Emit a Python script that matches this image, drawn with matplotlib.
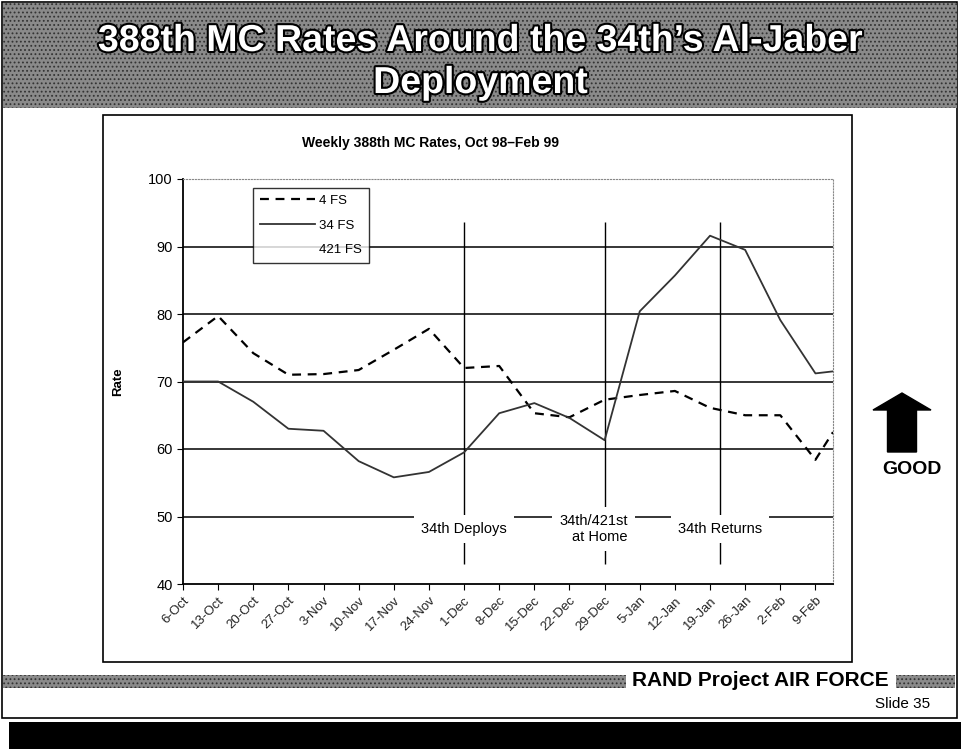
import matplotlib
matplotlib.use("Agg")
import matplotlib.pyplot as plt
import matplotlib.patheffects as pe
from matplotlib import font_manager
from matplotlib.patches import Rectangle, FancyArrow
import pandas as pd

# ---------- data ----------
week_dates = ["1998-10-06", "1998-10-13", "1998-10-20", "1998-10-27", "1998-11-03",
              "1998-11-10", "1998-11-17", "1998-11-24", "1998-12-01", "1998-12-08",
              "1998-12-15", "1998-12-22", "1998-12-29", "1999-01-05", "1999-01-12",
              "1999-01-19", "1999-01-26", "1999-02-02", "1999-02-09", "1999-02-12 12:00"]
tick_labels = ["6-Oct", "13-Oct", "20-Oct", "27-Oct", "3-Nov", "10-Nov", "17-Nov",
               "24-Nov", "1-Dec", "8-Dec", "15-Dec", "22-Dec", "29-Dec", "5-Jan",
               "12-Jan", "19-Jan", "26-Jan", "2-Feb", "9-Feb"]
fs4 = [75.8, 79.7, 74.2, 71.0, 71.1, 71.7, 74.7, 77.8, 72.0, 72.3,
       65.3, 64.7, 67.3, 68.0, 68.6, 66.1, 65.0, 65.0, 58.4, 62.5]
fs34 = [70.0, 70.0, 67.0, 63.0, 62.7, 58.2, 55.8, 56.6, 59.5, 65.3,
        66.8, 64.6, 61.3, 80.4, 85.7, 91.6, 89.5, 79.1, 71.2, 71.5]
event_dates = ["1998-12-01", "1998-12-29", "1999-01-21"]
event_labels = ["34th Deploys", "34th/421st\nat Home", "34th Returns"]
event_shift = [0, -8, 0]  # text offset in points

x = pd.to_datetime(week_dates, format="mixed")
xt = x[:len(tick_labels)]
ev = pd.to_datetime(event_dates)

names = {f.name for f in font_manager.fontManager.ttflist}
narrow = "Liberation Sans Narrow" if "Liberation Sans Narrow" in names else "Liberation Sans"
plt.rcParams["font.family"] = ["Liberation Sans", "DejaVu Sans"]
plt.rcParams["hatch.linewidth"] = 0.8

W, H = 961, 749
fig = plt.figure(figsize=(W / 100, H / 100), dpi=100)
fig.patch.set_facecolor("white")

def fx(px):
    return px / W

def fy(py):
    return 1 - py / H

def band(x0, y0, x1, y1):
    fig.patches.append(Rectangle((fx(x0), fy(y1)), fx(x1 - x0), (y1 - y0) / H,
                                 transform=fig.transFigure, facecolor="#8a8a8a",
                                 edgecolor="#333333", hatch="....", lw=0, zorder=0))

# ---------- slide decoration ----------
fig.patches.append(Rectangle((fx(2), fy(718)), fx(955), 716 / H, transform=fig.transFigure,
                             facecolor="none", edgecolor="black", lw=1.2, zorder=0))
band(3, 3, 957, 108)
fig.patches.append(Rectangle((fx(9), 0), 1, 27 / H, transform=fig.transFigure,
                             facecolor="black", edgecolor="none", zorder=0))
band(3, 675, 626, 688)
band(896, 675, 955, 688)
fig.patches.append(Rectangle((fx(103), fy(662)), fx(749), 547 / H, transform=fig.transFigure,
                             facecolor="white", edgecolor="black", lw=1.2, zorder=0))

stroke = [pe.withStroke(linewidth=3, foreground="black")]
fig.text(0.5, fy(41), "388th MC Rates Around the 34th\u2019s Al-Jaber", ha="center", va="center",
         color="white", fontsize=27, fontweight="bold", family=[narrow, "DejaVu Sans"],
         path_effects=stroke)
fig.text(0.5, fy(83), "Deployment", ha="center", va="center",
         color="white", fontsize=27, fontweight="bold", family=[narrow, "DejaVu Sans"],
         path_effects=stroke)

fig.text(fx(889), fy(681), "RAND Project AIR FORCE", ha="right", va="center",
         fontsize=15, fontweight="bold")
fig.text(fx(930), fy(704), "Slide 35", ha="right", va="center", fontsize=11,
         family=[narrow, "DejaVu Sans"])

fig.text(fx(430), fy(143), "Weekly 388th MC Rates, Oct 98\u2013Feb 99", ha="center",
         va="center", fontsize=10, fontweight="bold")

# GOOD arrow
fig.patches.append(FancyArrow(fx(902), fy(452), 0, (452 - 393) / H, width=fx(29),
                              head_width=fx(58), head_length=17 / H,
                              length_includes_head=True, transform=fig.transFigure,
                              facecolor="black", edgecolor="black"))
fig.text(fx(912), fy(470), "GOOD", ha="center", va="center", fontsize=14, fontweight="bold")

# ---------- chart ----------
ax = fig.add_axes([fx(183), fy(584), fx(833 - 183), (584 - 179) / H])
ax.set_zorder(3)
ax.set_facecolor("none")

ax.plot(x, fs4, color="black", lw=1.6, ls=(0, (4, 3)), label="4 FS", zorder=4)
ax.plot(x, fs34, color="#333333", lw=1.3, label="34 FS", zorder=4)
ax.plot([], [], color="white", label="421 FS")

for yv in [50, 60, 70, 80, 90]:
    ax.axhline(yv, color="black", lw=1.1, zorder=1)

for d, lab, sh in zip(ev, event_labels, event_shift):
    ax.vlines(d, 43, 93.6, color="black", lw=1.0, zorder=2)
    ax.annotate(lab, (d, 48.2), xytext=(sh, 0), textcoords="offset points",
                ha="center", va="center", fontsize=10.5, multialignment="right",
                zorder=3, bbox=dict(facecolor="white", edgecolor="none", pad=5))

ax.set_ylim(40, 100)
ax.set_xlim(x[0], x[-1])
ax.set_yticks([40, 50, 60, 70, 80, 90, 100])
ax.tick_params(axis="y", labelsize=10.5, length=4, direction="out")
ax.set_xticks(xt)
ax.set_xticklabels(tick_labels, rotation=45, ha="right", rotation_mode="anchor",
                   fontsize=9.5, color="#222222")
ax.tick_params(axis="x", length=4, direction="out")
ax.set_ylabel("Rate", fontsize=9.5, fontweight="bold", labelpad=17)

for s in ["top", "right"]:
    ax.spines[s].set_color("#888888")
    ax.spines[s].set_linestyle(":")
ax.spines["left"].set_linewidth(1.3)
ax.spines["bottom"].set_linewidth(1.3)

leg = ax.legend(loc="upper left", bbox_to_anchor=(0.108, 0.978), fontsize=9.5,
                handlelength=4.2, labelspacing=0.95, frameon=True, fancybox=False,
                borderpad=0.5, handletextpad=0.3, borderaxespad=0)
leg.get_frame().set_edgecolor("black")
leg.get_frame().set_linewidth(1.0)

fig.savefig("out.png", dpi=100)
